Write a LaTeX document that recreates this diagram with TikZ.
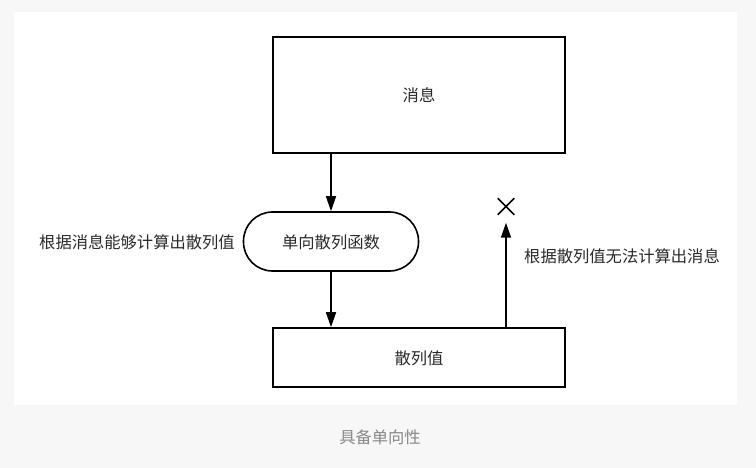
\documentclass[tikz,border=0pt]{standalone}
\usepackage{fontspec}
\setmainfont{Noto Sans CJK SC}
\usetikzlibrary{arrows.meta,shapes.misc}
\definecolor{pagebg}{HTML}{F7F7F7}
\definecolor{txt}{HTML}{2A2A2A}
\definecolor{captxt}{HTML}{888888}
\begin{document}
\begin{tikzpicture}[x=1pt,y=-1pt,
  box/.style={draw=black,line width=1.6pt,fill=white,inner sep=0pt},
  pill/.style={box,rounded corners=29pt,minimum width=175pt,minimum height=59pt},
  lbl/.style={text=txt,font=\fontsize{16.3pt}{19pt}\selectfont,inner sep=0pt},
  conn/.style={line width=1.6pt,-{Triangle[width=10pt,length=15pt]}}]
\fill[pagebg] (0,0) rectangle (756,468);
\fill[white] (14,12) rectangle (737,405);
\useasboundingbox (0,0) rectangle (756,468);
\node[box,minimum width=292pt,minimum height=116pt] (msg) at (419,95) {};
\node[lbl] (msgt) at (419,95) {消息};
\node[pill] (fn) at (331,241.5) {};
\node[lbl] (fnt) at (331,242) {单向散列函数};
\node[box,minimum width=292pt,minimum height=59pt] (hash) at (419,357.5) {};
\node[lbl] (hasht) at (419,358) {散列值};
\node[draw=black,line width=1.5pt,cross out,minimum size=15pt,inner sep=0pt] (xmark) at (506,206.5) {};
\node[lbl,anchor=east] (left) at (235,242) {根据消息能够计算出散列值};
\node[lbl,anchor=west] (right) at (524,256) {根据散列值无法计算出消息};
\node[text=captxt,font=\fontsize{16.3pt}{19pt}\selectfont,inner sep=0pt] (cap) at (380,437) {具备单向性};
\draw[conn] (msg.south -| fn.north) -- (fn.north);
\draw[conn] (fn.south) -- (hash.north -| fn.south);
\draw[conn,shorten >=8pt] (hash.north -| xmark) -- (xmark.south);
\end{tikzpicture}
\end{document}
